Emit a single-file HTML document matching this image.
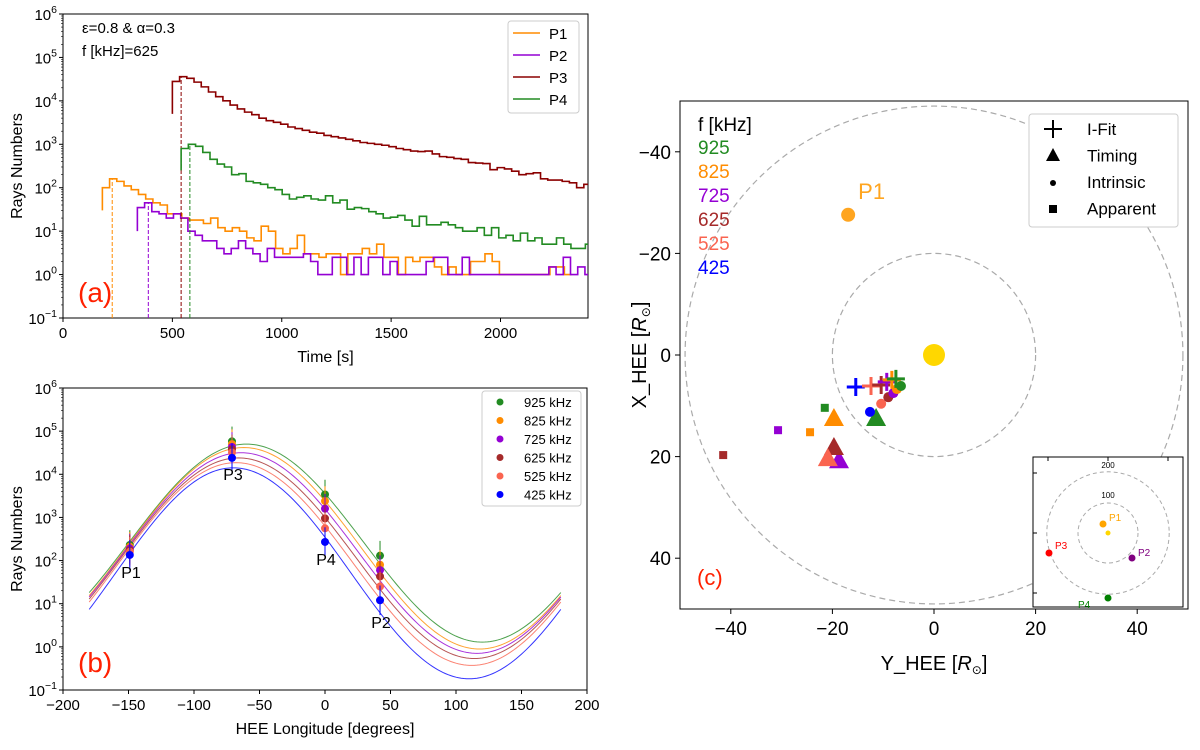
<!DOCTYPE html>
<html><head><meta charset="utf-8"><style>
body{margin:0;background:#fff;width:1200px;height:745px;overflow:hidden}
svg{font-family:"Liberation Sans","DejaVu Sans",sans-serif}
</style></head><body>
<svg id="s" width="1200" height="745" xmlns="http://www.w3.org/2000/svg"></svg>
<script>
// ---------- Panel (a) data ----------
const binW = 33;
const p1Start = 180, p1Vals = [100,160,140,110,90,70,55,45,40,25,25,20,18,18,15,20,12,10,12,10,7,6,13,10,4,3,4,8,3,3,2.5,3,3,1,3,3,4,3,5,2.5,2.5,1,2.5,2,2.5,2.5,1.5,1,1.5,1,1,2,2,3,2,1,1,1,1,1,1,1,1.5,1.5,1];
const p2Start = 340, p2Vals = [35,45,28,25,20,25,20,10,8,6,6,4,3,4,6,4,3,2,4,2.5,2.5,2.5,2.5,3,2,1,1,2.5,2.5,1,2.5,1,2.5,2.5,1,2,1,1,1,1,2,2.5,2.5,1,1,2.5,1,1,1,1,1,1,1,1,1,1,1,1.5,1,2.5,1,1.5,1,1,1,1];
const p3Start = 500, p3Vals = [28000,36000,33000,27000,21000,16000,12500,10000,8000,6500,5500,4800,4000,3500,3200,2900,2500,2300,2100,1900,1800,1600,1500,1400,1300,1200,1100,1050,1000,950,880,800,750,700,680,700,600,520,500,470,450,380,370,360,260,290,270,240,200,210,220,160,150,150,140,130,100,120];
const p4Start = 540, p4Vals = [800,1000,900,650,450,350,300,200,210,140,130,120,100,90,70,55,60,65,55,52,65,45,52,32,35,33,28,25,20,21,23,18,13,22,14,14,16,14,12,10,10,12,8,12,7,8,6,9,6,7,5,5,7,5,4,4,5];
const aStartLow = [30,10,5000,250];
const peakT = [225,390,540,580];
const peakV = [160,45,35000,1000];
const aNames = ["P1","P2","P3","P4"];
const aColors = ["#ff8c00","#9400d3","#8b0000","#228b22"];
// ---------- Panel (b) data ----------
const freqs = ["925 kHz","825 kHz","725 kHz","625 kHz","525 kHz","425 kHz"];
const bColors = ["#228b22","#ff8c00","#9400d3","#a52a2a","#fa6450","#0000ff"];
const curveMax = [4.7,4.62,4.5,4.38,4.27,4.15];
const curveMin = [0.11,-0.05,-0.15,-0.27,-0.43,-0.74];
const curvePhi = [-60,-62,-64,-66,-68,-70];
const lons = [-149,-71,0,42];
const pts = [[230,58000,3400,130],[210,50000,2400,80],[190,43000,1600,60],[175,38000,950,43],[160,32000,560,25],[135,24000,270,12]];
const bLabels = ["P1","P3","P4","P2"];
// ---------- Panel (c) data (Y_HEE, X_HEE) ----------
const cFreq = ["925","825","725","625","525","425"];
const cColors = ["#228b22","#ff8c00","#9400d3","#a52a2a","#fa6450","#0000ff"];
const crossY = [-7.5,-8.3,-9.3,-10.4,-12.4,-15.4], crossX = [4.7,4.9,5.3,5.9,6.1,6.3];
const intrY = [-6.5,-7.3,-8.0,-9.0,-10.4,-12.6], intrX = [6.1,6.7,7.5,8.3,9.6,11.2];
const triY = [-11.4,-19.7,-18.7,-19.7,-20.9,null], triX = [12.8,12.8,21.1,18.5,20.7,null];
const sqY = [-21.5,-24.4,-30.7,-41.5,null,null], sqX = [10.4,15.2,14.8,19.7,null,null];
const p1Pos = [-16.9,-27.6];
const circleR = [20,49];
const insetNames = ["P1","P2","P3","P4"];
const insetX = [-10,48,-118,0], insetY = [-18,50,40,130];
const insetColors = ["orange","purple","red","green"];

const NS="http://www.w3.org/2000/svg", S=document.getElementById('s');
function el(t,a,p){const e=document.createElementNS(NS,t);for(const k in a)e.setAttribute(k,a[k]);(p||S).appendChild(e);return e;}
function tx(x,y,s,a,p){const e=el('text',Object.assign({x:x,y:y},a),p);e.textContent=s;return e;}
function sup(x,y,base,exp,anchor,fs,name){const t=el('text',{x:x,y:y,'text-anchor':anchor,'font-size':fs});
 
 const a=el('tspan',{},t);a.textContent=base;const b=el('tspan',{dy:-7,'font-size':fs*0.7},t);b.textContent=exp;return t;}

function logAxes(g,L,R,T,B,x0,x1,xticks,xlabel,name){
 const X=v=>L+(v-x0)/(x1-x0)*(R-L), Y=v=>B-(Math.log10(v)+1)/7*(B-T);
 el('rect',{x:L,y:T,width:R-L,height:B-T,fill:'none',stroke:'#000','stroke-width':1},g);
 for(let e=-1;e<=6;e++){const y=Y(Math.pow(10,e));el('line',{x1:L-4,x2:L,y1:y,y2:y,stroke:'#000'},g);
  sup(L-6,y+6,'10',e<0?'\u22121':String(e),'end',15,name+'-ytick');
  if(e<6)for(let m=2;m<10;m++){const ym=Y(m*Math.pow(10,e));el('line',{x1:L-2,x2:L,y1:ym,y2:ym,stroke:'#000','stroke-width':0.6},g);}}
 xticks.forEach(v=>{const x=X(v);el('line',{x1:x,x2:x,y1:B,y2:B+4,stroke:'#000'},g);
  const t=tx(x,B+20,String(v).replace('-','\u2212'),{'text-anchor':'middle','font-size':15},g);});
 const xl=tx((L+R)/2,B+44,xlabel,{'text-anchor':'middle','font-size':16},g);
 const yl=tx(0,0,'Rays Numbers',{'text-anchor':'middle','font-size':16,transform:`translate(22,${(T+B)/2}) rotate(-90)`},g);
 return [X,Y];
}

// ===== Panel A =====
(function(){
 const g=el('g',{});
 const L=63,R=588,T=14,B=318;
 const [X,Y]=logAxes(g,L,R,T,B,0,2400,[0,500,1000,1500,2000],'Time [s]','panel-a');
 const cp=el('clipPath',{id:'ca'},g);el('rect',{x:L,y:T,width:R-L,height:B-T},cp);
 const starts=[p1Start,p2Start,p3Start,p4Start], vals=[p1Vals,p2Vals,p3Vals,p4Vals];
 for(let i=0;i<4;i++){
  let d=`M${X(starts[i])},${Y(aStartLow[i])}`;
  vals[i].forEach((v,k)=>{const t0=starts[i]+k*binW;d+=` L${X(t0)},${Y(v)} L${X(t0+binW)},${Y(v)}`;});
  const p=el('path',{d:d,fill:'none',stroke:aColors[i],'stroke-width':1.6,'clip-path':'url(#ca)'},g);
  
  const dl=el('line',{x1:X(peakT[i]),x2:X(peakT[i]),y1:B,y2:Y(peakV[i]),stroke:aColors[i],'stroke-width':1,'stroke-dasharray':'4,2'},g);
  
 }
 const t1=tx(82,33,'\u03b5=0.8 & \u03b1=0.3',{'font-size':15},g);
 const t2=tx(82,56,'f [kHz]=625',{'font-size':15},g);
 const lb=tx(78,302,'(a)',{'font-size':28,fill:'#ff2000'},g);
 const lg=el('g',{},g);
 el('rect',{x:508,y:21,width:71,height:92,rx:3,fill:'#fff',stroke:'#ccc'},lg);
 for(let i=0;i<4;i++){const y=33+i*22;el('line',{x1:513,x2:540,y1:y,y2:y,stroke:aColors[i],'stroke-width':1.6},lg);
  const t=tx(549,y+6,aNames[i],{'font-size':15},lg);}
})();

// ===== Panel B =====
(function(){
 const g=el('g',{});
 const L=63,R=587,T=388,B=690;
 const [X,Y]=logAxes(g,L,R,T,B,-200,200,[-200,-150,-100,-50,0,50,100,150,200],'HEE Longitude [degrees]','panel-b');
 for(let i=0;i<6;i++){
  const c=(curveMax[i]+curveMin[i])/2,A=(curveMax[i]-curveMin[i])/2;let d='';
  for(let lo=-180;lo<=180;lo+=2){const v=Math.pow(10,c+A*Math.cos((lo-curvePhi[i])*Math.PI/180));d+=(d?' L':'M')+X(lo)+','+Y(v);}
  const p=el('path',{d:d,fill:'none',stroke:bColors[i],'stroke-width':1,opacity:0.8},g);
 }
 for(let i=0;i<6;i++)lons.forEach((lo,k)=>{const v=pts[i][k];
  const e=el('line',{x1:X(lo),x2:X(lo),y1:Y(v*2.2),y2:Y(v/2.2),stroke:bColors[i],'stroke-width':1},g);
  const c=el('circle',{cx:X(lo),cy:Y(v),r:4,fill:bColors[i]},g);});
 const lp=[[131,578],[233,480],[326,565],[381,628]];
 bLabels.forEach((s,k)=>{const t=tx(lp[k][0],lp[k][1],s,{'text-anchor':'middle','font-size':16},g);});
 const lb=tx(78,672,'(b)',{'font-size':28,fill:'#ff2000'},g);
 const lg=el('g',{},g);
 el('rect',{x:482,y:391,width:99,height:115,rx:3,fill:'#fff',stroke:'#ccc'},lg);
 freqs.forEach((f,i)=>{const y=402+i*18.5;el('circle',{cx:500,cy:y,r:3.5,fill:bColors[i]},lg);
  const t=tx(524,y+5,f,{'font-size':13},lg);});
})();

// ===== Panel C =====
(function(){
 const g=el('g',{});
 const L=680,R=1188,T=101,B=609;
 const X=v=>L+(v+50)/100*(R-L), Y=v=>T+(v+50)/100*(B-T), s=(R-L)/100;
 const cp=el('clipPath',{id:'cc'},g);el('rect',{x:L,y:T,width:R-L,height:B-T},cp);
 circleR.forEach(r=>{const c=el('circle',{cx:X(0),cy:Y(0),r:r*s,fill:'none',stroke:'#aaa','stroke-dasharray':'6,4','stroke-width':1.2,'clip-path':'url(#cc)'},g);});
 el('rect',{x:L,y:T,width:R-L,height:B-T,fill:'none',stroke:'#000'},g);
 [-40,-20,0,20,40].forEach(v=>{el('line',{x1:X(v),x2:X(v),y1:B,y2:B+5,stroke:'#000'},g);
  const t=tx(X(v),B+26,String(v).replace('-','\u2212'),{'text-anchor':'middle','font-size':19},g);
  el('line',{x1:L-5,x2:L,y1:Y(v),y2:Y(v),stroke:'#000'},g);
  const u=tx(L-9,Y(v)+7,String(v).replace('-','\u2212'),{'text-anchor':'end','font-size':19},g);});
 const xl=tx(934,670,'',{'text-anchor':'middle','font-size':20},g);
 ['Y_HEE [','R','\u2299',']'].forEach((p,k)=>{const ts=el('tspan',k==1?{'font-style':'italic'}:(k==2?{'font-size':12,dy:4}:(k==3?{dy:-4}:{})),xl);ts.textContent=p;});
 const yl=tx(0,0,'',{'text-anchor':'middle','font-size':20,transform:'translate(646,355) rotate(-90)'},g);
 ['X_HEE [','R','\u2299',']'].forEach((p,k)=>{const ts=el('tspan',k==1?{'font-style':'italic'}:(k==2?{'font-size':12,dy:4}:(k==3?{dy:-4}:{})),yl);ts.textContent=p;});
 const sun=el('circle',{cx:X(0),cy:Y(0),r:11,fill:'#ffd700'},g);
 const p1=el('circle',{cx:X(p1Pos[0]),cy:Y(p1Pos[1]),r:7,fill:'#ffa520'},g);
 const p1t=tx(X(p1Pos[0])+10,Y(p1Pos[1])-16,'P1',{'font-size':22,fill:'#ffa520'},g);
 for(let i=0;i<6;i++){const c=cColors[i];
  if(sqY[i]!==null){const q=el('rect',{x:X(sqY[i])-4,y:Y(sqX[i])-4,width:8,height:8,fill:c},g);}
  if(triY[i]!==null){const x=X(triY[i]),y=Y(triX[i]);const t=el('polygon',{points:`${x},${y-12} ${x-10},${y+6} ${x+10},${y+6}`,fill:c},g);}
 }
 for(let i=5;i>=0;i--){const c=cColors[i];
  const x=X(crossY[i]),y=Y(crossX[i]);const p=el('path',{d:`M${x-9},${y}H${x+9}M${x},${y-9}V${y+9}`,stroke:c,'stroke-width':3},g);
  const d=el('circle',{cx:X(intrY[i]),cy:Y(intrX[i]),r:5,fill:c},g);}
 const ft=tx(698,131,'f [kHz]',{'font-size':19},g);
 cFreq.forEach((f,i)=>{const t=tx(698,154+i*24,f,{'font-size':19,fill:cColors[i]},g);});
 const lg=el('g',{},g);
 el('rect',{x:1029,y:114,width:149,height:113,rx:3,fill:'#fff',stroke:'#ccc'},lg);
 el('path',{d:'M1044,129H1062M1053,120V138',stroke:'#000','stroke-width':2},lg);
 el('polygon',{points:'1053,148 1046,161 1060,161',fill:'#000'},lg);
 el('circle',{cx:1053,cy:183,r:3,fill:'#000'},lg);
 el('rect',{x:1049,y:205,width:8,height:8,fill:'#000'},lg);
 ['I-Fit','Timing','Intrinsic','Apparent'].forEach((s,k)=>{const t=tx(1087,135+k*26.5,s,{'font-size':17},lg);});
 const lb=tx(697,585,'(c)',{'font-size':22,fill:'#ff2000'},g);
 // inset
 const ig=el('g',{},g);
 const iL=1033,iR=1183,iT=457,iB=607,cx=1108,cy=533,k=30/100;
 el('rect',{x:iL,y:iT,width:iR-iL,height:iB-iT,fill:'#fff',stroke:'#000'},ig);
 [1048,1108,1168].forEach(x=>el('line',{x1:x,x2:x,y1:iT,y2:iT+4,stroke:'#000'},ig));
 [473,533,593].forEach(y=>el('line',{x1:iL,x2:iL+4,y1:y,y2:y,stroke:'#000'},ig));
 [100,200].forEach(r=>{el('circle',{cx:cx,cy:cy,r:r*k*(r==200?1.02:1),fill:'none',stroke:'#aaa','stroke-dasharray':'4,3'},ig);
  const t=tx(cx,cy-r*k-5,String(r),{'text-anchor':'middle','font-size':8},ig);});
 el('circle',{cx:cx,cy:cy,r:2.5,fill:'#ffd700'},ig);
 const lo=[[6,-3],[6,-2],[6,-4],[-30,10]];
 insetNames.forEach((n,i)=>{
  const px=cx+insetX[i]*0.5, py=cy+insetY[i]*0.5;
  const c=el('circle',{cx:px,cy:py,r:3.5,fill:insetColors[i]},ig);
  const t=tx(px+lo[i][0],py+lo[i][1],n,{'font-size':10,fill:insetColors[i]},ig);});
})();
</script>
</body></html>
